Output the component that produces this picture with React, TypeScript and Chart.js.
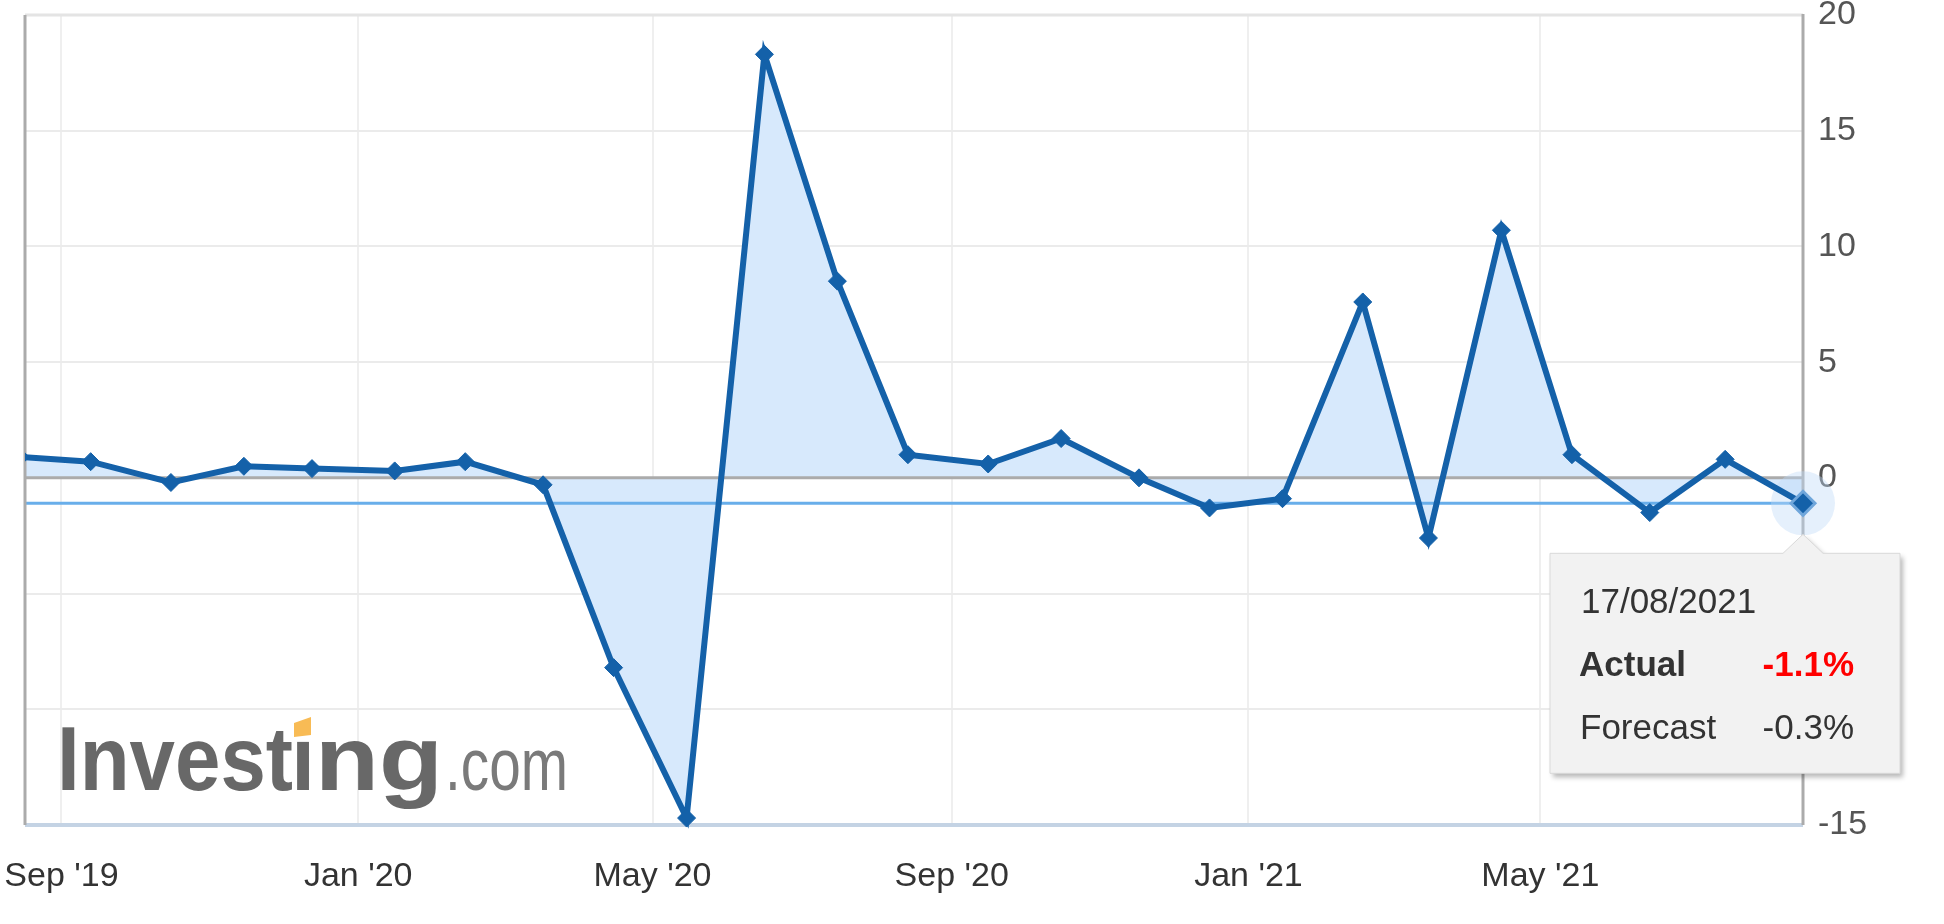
import { useEffect, useRef } from "react";
import { Chart, registerables } from "chart.js";

Chart.register(...registerables);

// ---- data ----
const releaseDates = [
  "2019-08-15", "2019-09-13", "2019-10-16", "2019-11-15", "2019-12-13",
  "2020-01-16", "2020-02-14", "2020-03-17", "2020-04-15", "2020-05-15",
  "2020-06-16", "2020-07-16", "2020-08-14", "2020-09-16", "2020-10-16",
  "2020-11-17", "2020-12-16", "2021-01-15", "2021-02-17", "2021-03-16",
  "2021-04-15", "2021-05-14", "2021-06-15", "2021-07-16", "2021-08-17",
];
const actualValues = [
  0.9, 0.7, -0.2, 0.5, 0.4,
  0.3, 0.7, -0.3, -8.2, -14.7,
  18.3, 8.5, 1.0, 0.6, 1.7,
  0.0, -1.3, -0.9, 7.6, -2.6,
  10.7, 1.0, -1.5, 0.8, -1.1,
];
const xRange = ["2019-08-17", "2021-08-17"];
const xTickDates = ["2019-09-01", "2020-01-01", "2020-05-01", "2020-09-01", "2021-01-01", "2021-05-01"];
const xTickLabels = ["Sep '19", "Jan '20", "May '20", "Sep '20", "Jan '21", "May '21"];
const yTicks = [-15, -10, -5, 0, 5, 10, 15, 20];
const tooltipDate = "17/08/2021";
const tooltipActualLabel = "Actual";
const tooltipActual = "-1.1%";
const tooltipForecastLabel = "Forecast";
const tooltipForecast = "-0.3%";
const highlightValue = -1.1;
const logoParts = ["Invest", "ı", "ng"];
const logoSuffix = ".com";

const FONT = "'Liberation Sans', Arial, Helvetica, sans-serif";

const toDay = (s: string) => {
  const [y, m, d] = s.split("-").map(Number);
  return Date.UTC(y, m - 1, d) / 86400000;
};

const drawScaledText = (ctx: any, text: string, x: number, y: number, targetW: number) => {
  const w = ctx.measureText(text).width;
  ctx.save();
  ctx.translate(x, y);
  ctx.scale(targetW / w, 1);
  ctx.fillText(text, 0, 0);
  ctx.restore();
};

const decorPlugin = {
  id: "decor",
  beforeDatasetsDraw(chart: any) {
    const { ctx } = chart;
    // logo
    ctx.save();
    const ly = 790;
    ctx.fillStyle = "#686868";
    ctx.font = `bold 90px ${FONT}`;
    drawScaledText(ctx, logoParts[0], 57, ly, 236);
    drawScaledText(ctx, logoParts[1], 291, ly, 24);
    drawScaledText(ctx, logoParts[2], 315, ly, 128);
    ctx.fillStyle = "#f8bb55";
    ctx.beginPath();
    ctx.moveTo(294, 723);
    ctx.lineTo(311, 717);
    ctx.lineTo(311, 735);
    ctx.lineTo(294, 737);
    ctx.closePath();
    ctx.fill();
    ctx.font = `74px ${FONT}`;
    ctx.fillStyle = "#7a7a7a";
    drawScaledText(ctx, logoSuffix, 445, ly, 123);
    ctx.restore();
  },
  beforeDatasetDraw(chart: any, args: any) {
    if (args.index !== 0) return;
    const { ctx, chartArea: a, scales } = chart;
    const y = scales.y;
    ctx.save();
    ctx.strokeStyle = "#e4e4e4";
    ctx.lineWidth = 3;
    ctx.beginPath();
    ctx.moveTo(a.left, a.top);
    ctx.lineTo(a.right, a.top);
    ctx.stroke();
    ctx.strokeStyle = "#ababab";
    ctx.lineWidth = 3;
    ctx.beginPath();
    ctx.moveTo(a.left, y.getPixelForValue(0));
    ctx.lineTo(a.right, y.getPixelForValue(0));
    ctx.stroke();
    ctx.strokeStyle = "#68aeea";
    ctx.lineWidth = 3;
    ctx.beginPath();
    ctx.moveTo(a.left, y.getPixelForValue(highlightValue));
    ctx.lineTo(a.right, y.getPixelForValue(highlightValue));
    ctx.stroke();
    ctx.strokeStyle = "#c4d3e4";
    ctx.lineWidth = 4;
    ctx.beginPath();
    ctx.moveTo(a.left, a.bottom);
    ctx.lineTo(a.right, a.bottom);
    ctx.stroke();
    ctx.strokeStyle = "#ababab";
    ctx.lineWidth = 3;
    ctx.beginPath();
    ctx.moveTo(a.left, a.top);
    ctx.lineTo(a.left, a.bottom);
    ctx.moveTo(a.right, a.top - 1);
    ctx.lineTo(a.right, a.bottom);
    ctx.stroke();
    const meta = chart.getDatasetMeta(0);
    const last = meta.data[meta.data.length - 1];
    ctx.fillStyle = "rgba(190, 218, 248, 0.4)";
    ctx.beginPath();
    ctx.arc(last.x, last.y, 32, 0, Math.PI * 2);
    ctx.fill();
    ctx.restore();
  },
  afterDraw(chart: any) {
    const { ctx } = chart;
    const meta = chart.getDatasetMeta(0);
    const last = meta.data[meta.data.length - 1];
    const px = last.x, py = last.y;
    const left = px - 253, right = px + 97, top = py + 50, bottom = py + 270;
    ctx.save();
    ctx.shadowColor = "rgba(0,0,0,0.28)";
    ctx.shadowOffsetX = 3;
    ctx.shadowOffsetY = 4;
    ctx.shadowBlur = 5;
    ctx.beginPath();
    ctx.moveTo(left, top);
    ctx.lineTo(px - 20, top);
    ctx.lineTo(px, top - 19);
    ctx.lineTo(px + 20, top);
    ctx.lineTo(right, top);
    ctx.lineTo(right, bottom);
    ctx.lineTo(left, bottom);
    ctx.closePath();
    ctx.fillStyle = "#f2f2f2";
    ctx.fill();
    ctx.shadowColor = "transparent";
    ctx.strokeStyle = "#d9d9d9";
    ctx.lineWidth = 1;
    ctx.stroke();
    ctx.textBaseline = "alphabetic";
    ctx.fillStyle = "#333333";
    ctx.font = `35px ${FONT}`;
    ctx.textAlign = "left";
    ctx.fillText(tooltipDate, left + 31, top + 60);
    ctx.font = `bold 35px ${FONT}`;
    ctx.fillText(tooltipActualLabel, left + 29, top + 123);
    ctx.textAlign = "right";
    ctx.fillStyle = "#ff0000";
    ctx.fillText(tooltipActual, left + 304, top + 123);
    ctx.fillStyle = "#333333";
    ctx.font = `35px ${FONT}`;
    ctx.textAlign = "left";
    ctx.fillText(tooltipForecastLabel, left + 30, top + 186);
    ctx.textAlign = "right";
    ctx.fillText(tooltipForecast, left + 304, top + 186);
    ctx.restore();
  },
};

export default function App() {
  const ref = useRef<HTMLCanvasElement | null>(null);
  useEffect(() => {
    if (!ref.current) return;
    Chart.defaults.font.family = FONT;
    const data = releaseDates.map((d, i) => ({ x: toDay(d), y: actualValues[i] }));
    const n = data.length;
    const lineColor = "#1461a9";
    const chart = new Chart(ref.current, {
      type: "line",
      data: {
        datasets: [
          {
            data,
            borderColor: lineColor,
            borderWidth: 6,
            backgroundColor: "#d7e9fc",
            fill: "origin",
            tension: 0,
            pointStyle: "rectRot",
            pointRadius: data.map((_, i) => (i === n - 1 ? 12 : 9)),
            pointBackgroundColor: lineColor,
            pointBorderColor: data.map((_, i) => (i === n - 1 ? "#6fa6db" : lineColor)),
            pointBorderWidth: data.map((_, i) => (i === n - 1 ? 3 : 1)),
            clip: { left: 0, top: 20, right: 30, bottom: 20 },
          } as any,
        ],
      },
      options: {
        animation: false,
        responsive: false,
        layout: { padding: { left: 25, top: 12, right: 0, bottom: 0 } },
        plugins: { legend: { display: false }, tooltip: { enabled: false } },
        scales: {
          x: {
            type: "linear",
            min: toDay(xRange[0]),
            max: toDay(xRange[1]),
            afterBuildTicks: (s: any) => {
              s.ticks = xTickDates.map((d) => ({ value: toDay(d) }));
            },
            afterFit: (s: any) => {
              s.height = 99;
              s.paddingLeft = 0;
              s.paddingRight = 0;
            },
            grid: { color: "#efefef", lineWidth: 2, drawTicks: false },
            border: { display: false },
            ticks: {
              padding: 31,
              color: "#333333",
              font: { family: FONT, size: 34 },
              maxRotation: 0,
              autoSkip: false,
              callback: (v: any) => {
                const i = xTickDates.findIndex((d) => toDay(d) === v);
                return i >= 0 ? xTickLabels[i] : "";
              },
            },
          },
          y: {
            position: "right",
            min: yTicks[0],
            max: yTicks[yTicks.length - 1],
            afterBuildTicks: (s: any) => {
              s.ticks = yTicks.map((v) => ({ value: v }));
            },
            afterFit: (s: any) => {
              s.width = 141;
              s.paddingTop = 0;
              s.paddingBottom = 0;
            },
            grid: { color: "#ebebeb", lineWidth: 2, drawTicks: false },
            border: { display: false },
            ticks: {
              padding: 15,
              color: "#555555",
              font: { family: FONT, size: 34 },
              callback: (v: any) => String(v),
            },
          },
        },
      } as any,
      plugins: [decorPlugin as any],
    });
    return () => chart.destroy();
  }, []);
  return (
    <div style={{ position: "fixed", left: 0, top: 0, width: 1944, height: 924, background: "#fff" }}>
      <canvas ref={ref} width={1944} height={924} style={{ display: "block", width: 1944, height: 924 }} />
    </div>
  );
}
